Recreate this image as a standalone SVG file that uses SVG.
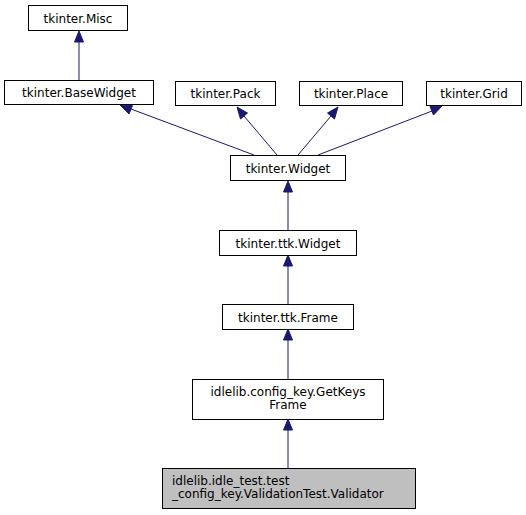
<svg xmlns="http://www.w3.org/2000/svg" width="526" height="515" viewBox="0 0 526 515">
<style>
.n rect{fill:#ffffff;stroke:#000000;stroke-width:1}
.n text{font-family:"DejaVu Sans",sans-serif;font-size:12px;fill:#000000;text-anchor:middle}
#validator rect{fill:#bfbfbf;stroke:#000000}
.e line{stroke:#191970;stroke-width:1}
.e polygon{fill:#191970;stroke:#191970}
</style>
<rect width="526" height="515" fill="#ffffff"/>
<g class="e" id="edges">
<line x1="79" y1="80" x2="79" y2="42"/>
<polygon points="74.5,42 79,31 83.5,42"/>
<line x1="254" y1="155" x2="131" y2="109"/>
<polygon points="129,114 120,105 132.5,105.5"/>
<line x1="277" y1="155" x2="244" y2="116"/>
<polygon points="240.5,119 237,107 247.5,113"/>
<line x1="298" y1="155" x2="331" y2="116"/>
<polygon points="327.5,113 338,107 334.5,119"/>
<line x1="318" y1="155" x2="432" y2="111"/>
<polygon points="430,106.5 442,106 433.5,115"/>
<line x1="288" y1="230" x2="288" y2="192"/>
<polygon points="283.5,192 288,181 292.5,192"/>
<line x1="288" y1="305" x2="288" y2="266"/>
<polygon points="283.5,266 288,255 292.5,266"/>
<line x1="288" y1="379" x2="288" y2="340"/>
<polygon points="283.5,340 288,329 292.5,340"/>
<line x1="288" y1="468" x2="288" y2="430"/>
<polygon points="283.5,430 288,419 292.5,430"/>
</g>
<g class="n" id="misc"><rect x="28.5" y="5.5" width="99" height="25"/><text x="78" y="22.5">tkinter.Misc</text></g>
<g class="n" id="basewidget"><rect x="4.5" y="80.5" width="149" height="24"/><text x="79" y="97">tkinter.BaseWidget</text></g>
<g class="n" id="pack"><rect x="175.5" y="81.5" width="100" height="24"/><text x="225.5" y="98">tkinter.Pack</text></g>
<g class="n" id="place"><rect x="299.5" y="81.5" width="103" height="24"/><text x="351" y="98">tkinter.Place</text></g>
<g class="n" id="grid"><rect x="426.5" y="81.5" width="95" height="24"/><text x="474" y="98">tkinter.Grid</text></g>
<g class="n" id="widget"><rect x="230.5" y="155.5" width="115" height="25"/><text x="288" y="172.5">tkinter.Widget</text></g>
<g class="n" id="ttkwidget"><rect x="219.5" y="230.5" width="137" height="25"/><text x="288" y="247.5">tkinter.ttk.Widget</text></g>
<g class="n" id="ttkframe"><rect x="222.5" y="304.5" width="131" height="25"/><text x="288" y="321.5">tkinter.ttk.Frame</text></g>
<g class="n" id="getkeys"><rect x="192.5" y="379.5" width="191" height="40"/><text x="288" y="396">idlelib.config_key.GetKeys</text><text x="288" y="409">Frame</text></g>
<g class="n" id="validator"><rect x="162.5" y="468.5" width="253" height="40"/><text x="172" y="485" style="text-anchor:start">idlelib.idle_test.test</text><text x="172" y="498" style="text-anchor:start">_config_key.ValidationTest.Validator</text></g>
</svg>
